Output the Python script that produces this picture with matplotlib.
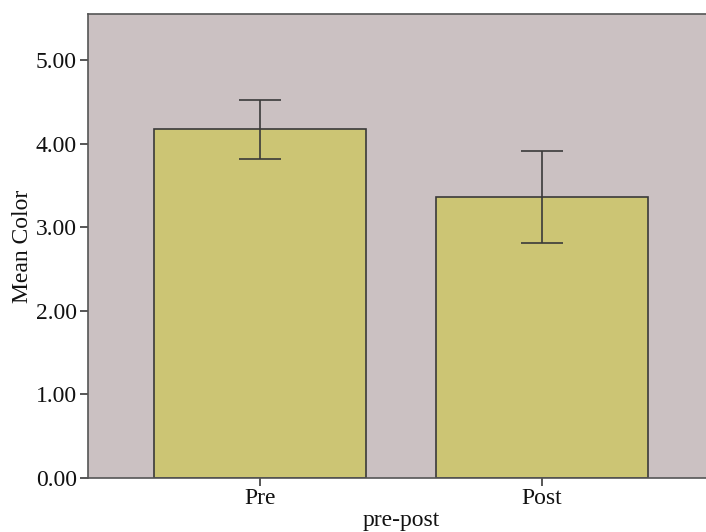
import matplotlib
matplotlib.use("Agg")
import matplotlib.pyplot as plt

groups = ["Pre", "Post"]
means = [4.17, 3.36]
errs = [0.35, 0.555]
yticks = [0, 1, 2, 3, 4, 5]

plt.rcParams['font.family'] = ['Liberation Serif', 'DejaVu Serif']

fig = plt.figure(figsize=(7.06, 5.32), dpi=100)
# axes runs past the right edge of the figure, like the cropped original
ax = fig.add_axes([88/706, 54/532, 626/706, 464/532])
ax.set_facecolor("#cbc1c2")

x = list(range(len(groups)))
ax.bar(x, means, width=0.75, color="#ccc574", edgecolor="#3a3a3a", linewidth=1.2, zorder=2)
ax.errorbar(x, means, yerr=errs, fmt="none", ecolor="#3a3a3a", elinewidth=1.2,
            capsize=15, capthick=1.2, zorder=3)

ax.set_xlim(-0.61, 1.61)
ax.set_ylim(0, 5.55)
ax.set_xticks(x)
ax.set_xticklabels(groups)
ax.set_yticks(yticks)
ax.set_yticklabels([f"{v:.2f}" for v in yticks])
ax.tick_params(axis="both", labelsize=17, length=6, width=1.2, color="#3a3a3a",
               labelcolor="#111111")
ax.tick_params(axis="x", pad=1)
ax.tick_params(axis="y", pad=2)

for s in ax.spines.values():
    s.set_color("#555555")
    s.set_linewidth(1.2)

ax.set_ylabel("Mean Color", fontsize=17, labelpad=2, color="#111111")
ax.set_xlabel("pre-post", fontsize=17, labelpad=1, color="#111111")

fig.savefig("out.png", dpi=100)
